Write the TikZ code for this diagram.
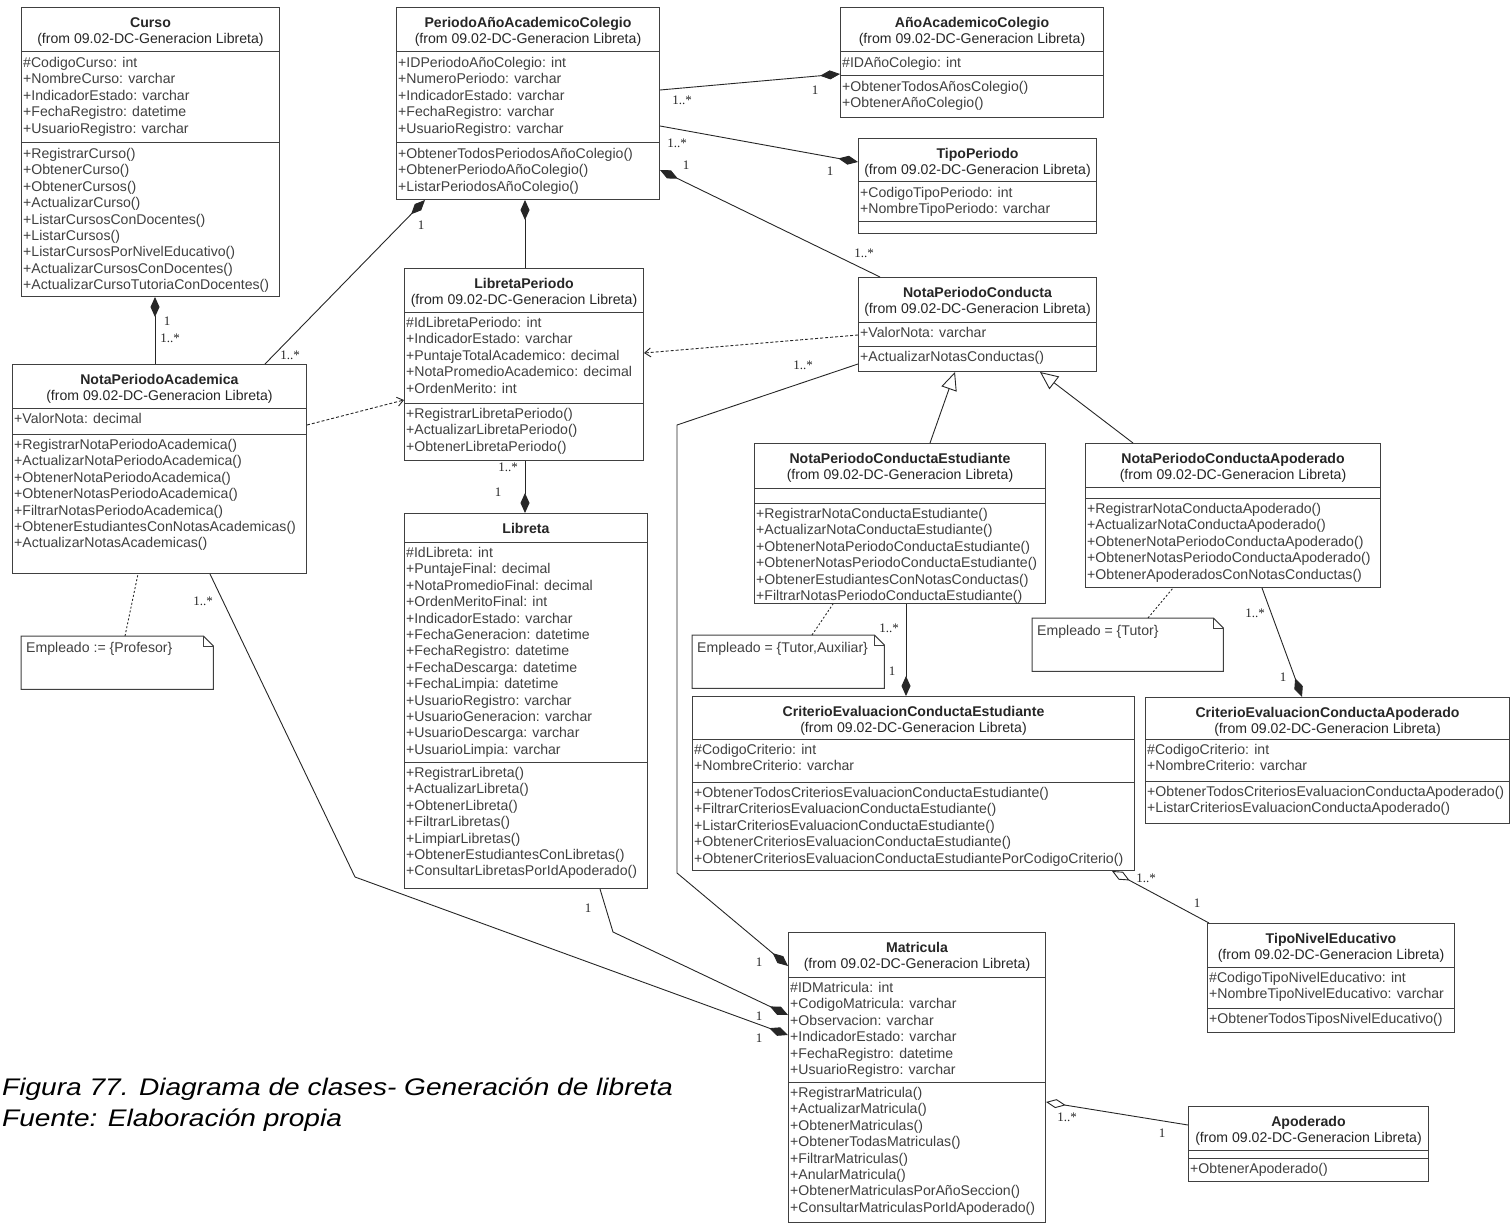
\documentclass[tikz,border=0pt]{standalone}
\usepackage{fontspec}
\setmainfont{Liberation Sans}
\newfontfamily\multfont{Liberation Serif}
\newfontfamily\capfont[FakeStretch=1.17]{Liberation Sans}
\usetikzlibrary{arrows.meta,positioning}
\newcommand{\fromtxt}{(from 09.02-DC-Generacion Libreta)}
% #1 name, #2 corner, #3 width, #4 height, #5 header, #6 attributes, #7 title, #8 attributes, #9 methods
\newcommand{\umlclass}[9]{%
  \node[classbox, minimum width=#3pt, minimum height=#4pt] (#1) at #2 {};
  \node[classtitle] (#1-t) at ([yshift=-10pt]#1.north) {#7};
  \draw[classline] ([yshift=-#5pt]#1.north west) -- ([yshift=-#5pt]#1.north east);
  \draw[classline] ([yshift=-#5pt-#6pt]#1.north west) -- ([yshift=-#5pt-#6pt]#1.north east);
  \node[classtext] (#1-a) at ([shift={(2pt,-#5pt-5pt)}]#1.north west) {#8};
  \node[classtext] (#1-m) at ([shift={(2pt,-#5pt-#6pt-5pt)}]#1.north west) {#9};
}
\newcommand{\notefold}[1]{%
  \draw[classline, fill=white] (#1.north west) -- ([xshift=-10pt]#1.north east) -- ([yshift=-10pt]#1.north east) -- (#1.south east) -- (#1.south west) -- cycle;
  \draw[classline] ([xshift=-10pt]#1.north east) -- ([shift={(-10pt,-10pt)}]#1.north east) -- ([yshift=-10pt]#1.north east);
}

\begin{document}
\begin{tikzpicture}[
  x=1pt, y=-1pt,
  classbox/.style={draw=black!75, line width=1pt, fill=white, inner sep=0pt, anchor=north west},
  classline/.style={draw=black!75, line width=1pt},
  classtitle/.style={align=center, anchor=north, inner sep=0pt, font=\fontsize{14.1}{16}\selectfont, text=black!85},
  classtext/.style={align=left, anchor=north west, inner sep=0pt, font=\fontsize{14.1}{16.4}\selectfont, text=black!75},
  notebox/.style={inner sep=0pt, anchor=north west, minimum width=192pt, minimum height=53pt},
  notetext/.style={anchor=west, inner sep=0pt, font=\fontsize{14.1}{16.4}\selectfont, text=black!75},
  mult/.style={inner sep=0pt, font=\multfont\fontsize{13}{14}\selectfont, text=black!85},
  assoc/.style={line width=0.9pt, draw=black!85},
  comp/.style={assoc, arrows={Diamond[length=20pt,width=9pt]-}},
  aggr/.style={assoc, arrows={Diamond[open,length=20pt,width=9pt]-}},
  gen/.style={assoc, arrows={-Triangle[open,length=18pt,width=16pt]}},
  dep/.style={assoc, dash pattern=on 3pt off 2pt, arrows={-Straight Barb[length=6pt,width=9pt]}},
  notelink/.style={assoc, dash pattern=on 2pt off 2pt}
]
\useasboundingbox (0,0) rectangle (1510,1225);

% clases
\umlclass{curso}{(21,7)}{258}{289}{45}{91}{\textbf{Curso}\\\fromtxt}
  {\#CodigoCurso: int\\+NombreCurso: varchar\\+IndicadorEstado: varchar\\+FechaRegistro: datetime\\+UsuarioRegistro: varchar}
  {+RegistrarCurso()\\+ObtenerCurso()\\+ObtenerCursos()\\+ActualizarCurso()\\+ListarCursosConDocentes()\\+ListarCursos()\\+ListarCursosPorNivelEducativo()\\+ActualizarCursosConDocentes()\\+ActualizarCursoTutoriaConDocentes()}
\umlclass{pac}{(396,7)}{263}{192}{45}{91}{\textbf{PeriodoAñoAcademicoColegio}\\\fromtxt}
  {+IDPeriodoAñoColegio: int\\+NumeroPeriodo: varchar\\+IndicadorEstado: varchar\\+FechaRegistro: varchar\\+UsuarioRegistro: varchar}
  {+ObtenerTodosPeriodosAñoColegio()\\+ObtenerPeriodoAñoColegio()\\+ListarPeriodosAñoColegio()}
\umlclass{aac}{(840,7)}{263}{110}{45}{24}{\textbf{AñoAcademicoColegio}\\\fromtxt}
  {\#IDAñoColegio: int}
  {+ObtenerTodosAñosColegio()\\+ObtenerAñoColegio()}
\umlclass{tp}{(858,138)}{238}{95}{44}{40}{\textbf{TipoPeriodo}\\\fromtxt}
  {+CodigoTipoPeriodo: int\\+NombreTipoPeriodo: varchar}
  {}
\umlclass{npa}{(12,364)}{294}{209}{44}{26}{\textbf{NotaPeriodoAcademica}\\\fromtxt}
  {+ValorNota: decimal}
  {+RegistrarNotaPeriodoAcademica()\\+ActualizarNotaPeriodoAcademica()\\+ObtenerNotaPeriodoAcademica()\\+ObtenerNotasPeriodoAcademica()\\+FiltrarNotasPeriodoAcademica()\\+ObtenerEstudiantesConNotasAcademicas()\\+ActualizarNotasAcademicas()}
\umlclass{lp}{(404,268)}{239}{192}{44}{91}{\textbf{LibretaPeriodo}\\\fromtxt}
  {\#IdLibretaPeriodo: int\\+IndicadorEstado: varchar\\+PuntajeTotalAcademico: decimal\\+NotaPromedioAcademico: decimal\\+OrdenMerito: int}
  {+RegistrarLibretaPeriodo()\\+ActualizarLibretaPeriodo()\\+ObtenerLibretaPeriodo()}
\umlclass{lib}{(404,513)}{243}{375}{29}{220}{\textbf{Libreta}}
  {\#IdLibreta: int\\+PuntajeFinal: decimal\\+NotaPromedioFinal: decimal\\+OrdenMeritoFinal: int\\+IndicadorEstado: varchar\\+FechaGeneracion: datetime\\+FechaRegistro: datetime\\+FechaDescarga: datetime\\+FechaLimpia: datetime\\+UsuarioRegistro: varchar\\+UsuarioGeneracion: varchar\\+UsuarioDescarga: varchar\\+UsuarioLimpia: varchar}
  {+RegistrarLibreta()\\+ActualizarLibreta()\\+ObtenerLibreta()\\+FiltrarLibretas()\\+LimpiarLibretas()\\+ObtenerEstudiantesConLibretas()\\+ConsultarLibretasPorIdApoderado()}
\umlclass{npc}{(858,277)}{238}{94}{45}{24}{\textbf{NotaPeriodoConducta}\\\fromtxt}
  {+ValorNota: varchar}
  {+ActualizarNotasConductas()}
\umlclass{npce}{(754,443)}{291}{160}{45}{15}{\textbf{NotaPeriodoConductaEstudiante}\\\fromtxt}
  {}
  {+RegistrarNotaConductaEstudiante()\\+ActualizarNotaConductaEstudiante()\\+ObtenerNotaPeriodoConductaEstudiante()\\+ObtenerNotasPeriodoConductaEstudiante()\\+ObtenerEstudiantesConNotasConductas()\\+FiltrarNotasPeriodoConductaEstudiante()}
\umlclass{npca}{(1085,443)}{295}{144}{44}{11}{\textbf{NotaPeriodoConductaApoderado}\\\fromtxt}
  {}
  {+RegistrarNotaConductaApoderado()\\+ActualizarNotaConductaApoderado()\\+ObtenerNotaPeriodoConductaApoderado()\\+ObtenerNotasPeriodoConductaApoderado()\\+ObtenerApoderadosConNotasConductas()}
\umlclass{cece}{(692,696)}{442}{174}{43}{43}{\textbf{CriterioEvaluacionConductaEstudiante}\\\fromtxt}
  {\#CodigoCriterio: int\\+NombreCriterio: varchar}
  {+ObtenerTodosCriteriosEvaluacionConductaEstudiante()\\+FiltrarCriteriosEvaluacionConductaEstudiante()\\+ListarCriteriosEvaluacionConductaEstudiante()\\+ObtenerCriteriosEvaluacionConductaEstudiante()\\+ObtenerCriteriosEvaluacionConductaEstudiantePorCodigoCriterio()}
\umlclass{ceca}{(1145,697)}{364}{126}{42}{42}{\textbf{CriterioEvaluacionConductaApoderado}\\\fromtxt}
  {\#CodigoCriterio: int\\+NombreCriterio: varchar}
  {+ObtenerTodosCriteriosEvaluacionConductaApoderado()\\+ListarCriteriosEvaluacionConductaApoderado()}
\umlclass{tne}{(1207,923)}{247}{109}{44}{41}{\textbf{TipoNivelEducativo}\\\fromtxt}
  {\#CodigoTipoNivelEducativo: int\\+NombreTipoNivelEducativo: varchar}
  {+ObtenerTodosTiposNivelEducativo()}
\umlclass{apo}{(1188,1106)}{240}{75}{44}{8}{\textbf{Apoderado}\\\fromtxt}
  {}
  {+ObtenerApoderado()}
\umlclass{mat}{(788,932)}{257}{290}{45}{105}{\textbf{Matricula}\\\fromtxt}
  {\#IDMatricula: int\\+CodigoMatricula: varchar\\+Observacion: varchar\\+IndicadorEstado: varchar\\+FechaRegistro: datetime\\+UsuarioRegistro: varchar}
  {+RegistrarMatricula()\\+ActualizarMatricula()\\+ObtenerMatriculas()\\+ObtenerTodasMatriculas()\\+FiltrarMatriculas()\\+AnularMatricula()\\+ObtenerMatriculasPorAñoSeccion()\\+ConsultarMatriculasPorIdApoderado()}

% notas
\node[notebox] (np1) at (21,636) {};
\notefold{np1}
\node[notetext] (np1-t) at ([shift={(5pt,-13pt)}]np1.north west) {Empleado  := \{Profesor\}};
\node[notebox] (np2) at (692,635) {};
\notefold{np2}
\node[notetext] (np2-t) at ([shift={(5pt,-14pt)}]np2.north west) {Empleado  = \{Tutor,Auxiliar\}};
\node[notebox, minimum width=191pt] (np3) at (1032,618) {};
\notefold{np3}
\node[notetext] (np3-t) at ([shift={(5pt,-14pt)}]np3.north west) {Empleado  = \{Tutor\}};

% composiciones
\draw[comp] ([xshift=134pt]curso.south west) -- ([xshift=143pt]npa.north west);
\draw[comp] ([xshift=29pt]pac.south west) -- ([xshift=253pt]npa.north west);
\draw[comp] ([xshift=129pt]pac.south west) -- ([xshift=121pt]lp.north west);
\draw[comp] ([yshift=-67pt]aac.north west) -- ([yshift=-83pt]pac.north east);
\draw[comp] ([yshift=-24pt]tp.north west) -- ([yshift=-119pt]pac.north east);
\draw[comp] ([yshift=-163pt]pac.north east) -- ([xshift=22pt]npc.north west);
\draw[comp] ([xshift=121pt]lib.north west) -- ([xshift=121pt]lp.south west);
\draw[comp] ([yshift=-34pt]mat.north west) -- (677,873) -- (677,425) -- ([yshift=-87pt]npc.north west);
\draw[comp] ([yshift=-83pt]mat.north west) -- (613,932) -- ([xshift=196pt]lib.south west);
\draw[comp] ([yshift=-103pt]mat.north west) -- (355,877) -- ([xshift=198pt]npa.south west);
\draw[comp] ([xshift=214pt]cece.north west) -- ([xshift=152pt]npce.south west);
\draw[comp] ([xshift=157pt]ceca.north west) -- ([xshift=177pt]npca.south west);

% agregaciones
\draw[aggr] ([xshift=420pt]cece.south west) -- ([xshift=2pt]tne.north west);
\draw[aggr] ([yshift=-170pt]mat.north east) -- ([yshift=-19pt]apo.north west);

% herencia
\draw[gen] ([xshift=176pt]npce.north west) -- ([xshift=97pt]npc.south west);
\draw[gen] ([xshift=48pt]npca.north west) -- ([xshift=182pt]npc.south west);

% dependencias
\draw[dep] ([yshift=-61pt]npa.north east) -- ([yshift=-132pt]lp.north west);
\draw[dep] ([yshift=-58pt]npc.north west) -- ([yshift=-85pt]lp.north east);

% enlaces de notas
\draw[notelink] ([xshift=104pt]np1.north west) -- ([xshift=126pt]npa.south west);
\draw[notelink] ([xshift=120pt]np2.north west) -- ([xshift=79pt]npce.south west);
\draw[notelink] ([xshift=116pt]np3.north west) -- ([xshift=88pt]npca.south west);

% multiplicidades
\node[mult] (m1) at (167,321) {1};
\node[mult] (m2) at (170,338) {1..*};
\node[mult] (m3) at (421,225) {1};
\node[mult] (m4) at (290,355) {1..*};
\node[mult] (m5) at (682,100) {1..*};
\node[mult] (m6) at (815,90) {1};
\node[mult] (m7) at (677,143) {1..*};
\node[mult] (m8) at (830,171) {1};
\node[mult] (m9) at (686,165) {1};
\node[mult] (m10) at (864,253) {1..*};
\node[mult] (m11) at (508,467) {1..*};
\node[mult] (m12) at (498,492) {1};
\node[mult] (m13) at (803,365) {1..*};
\node[mult] (m14) at (759,962) {1};
\node[mult] (m15) at (588,908) {1};
\node[mult] (m16) at (759,1016) {1};
\node[mult] (m17) at (203,601) {1..*};
\node[mult] (m18) at (759,1038) {1};
\node[mult] (m19) at (889,628) {1..*};
\node[mult] (m20) at (892,671) {1};
\node[mult] (m21) at (1255,613) {1..*};
\node[mult] (m22) at (1283,677) {1};
\node[mult] (m23) at (1146,878) {1..*};
\node[mult] (m24) at (1197,903) {1};
\node[mult] (m25) at (1067,1117) {1..*};
\node[mult] (m26) at (1162,1133) {1};

% pie de figura
\node[anchor=base west, inner sep=0pt, font=\capfont\itshape\fontsize{24}{30}\selectfont] (cap1) at (2,1095) {Figura 77. Diagrama de clases- Generación de libreta};
\node[anchor=base west, inner sep=0pt, font=\capfont\itshape\fontsize{24}{30}\selectfont] (cap2) at (2,1126) {Fuente: Elaboración propia};
\end{tikzpicture}
\end{document}
